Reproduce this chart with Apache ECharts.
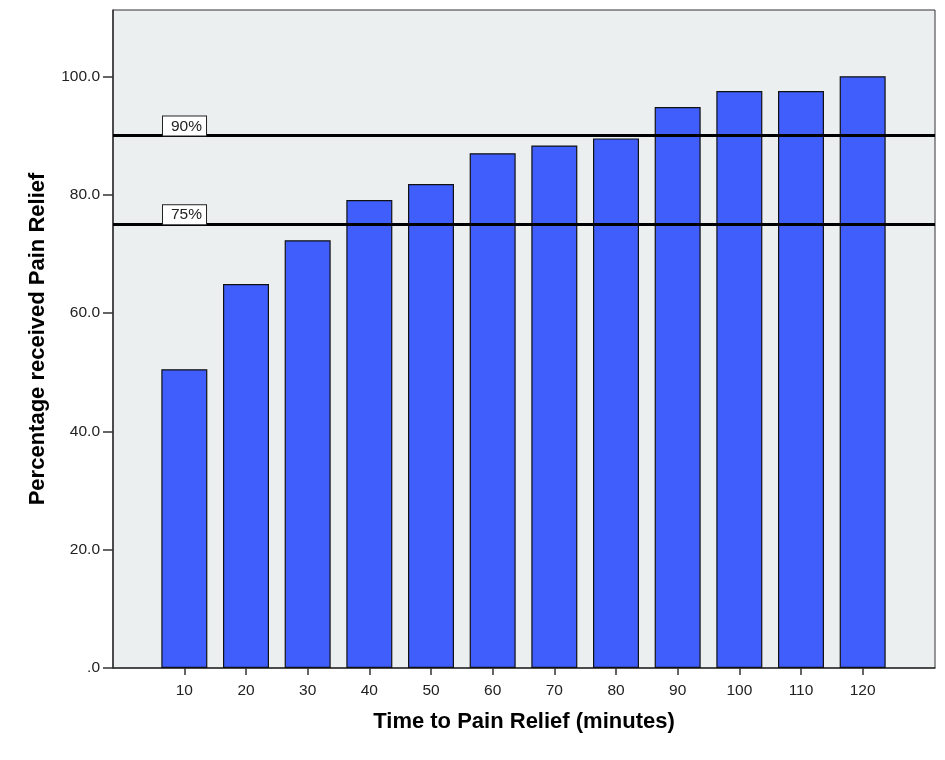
<!DOCTYPE html>
<html>
<head>
<meta charset="utf-8">
<script src="https://cdn.jsdelivr.net/npm/echarts@6/dist/echarts.min.js"></script>
<style>
  html, body { margin: 0; padding: 0; background: #fff; }
  #chart { width: 945px; height: 760px; }
</style>
</head>
<body>
<div id="chart"></div>
<script>
// minutes after dosing
const minutes = ['10', '20', '30', '40', '50', '60', '70', '80', '90', '100', '110', '120'];
// cumulative percentage of patients who got pain relief
const relief = [50.5, 64.9, 72.3, 79.1, 81.8, 87.0, 88.3, 89.5, 94.8, 97.5, 97.5, 100.0];
// reference lines
const refValues = [90, 75];
const refLabels = ['90%', '75%'];
const yTicks = [0, 20, 40, 60, 80, 100];

const yMax = 111.2;
const font = '"Liberation Sans", Arial, sans-serif';

const chart = echarts.init(document.getElementById('chart'), null, {renderer: 'canvas'});

const option = {
  backgroundColor: '#fff',
  animation: false,
  textStyle: {fontFamily: font},
  grid: [
    // frame with background, spans whole plot
    {left: 113, right: 10, top: 10, bottom: 92, show: true, backgroundColor: '#ECEFF0', borderColor: '#333', borderWidth: 1},
    // bars area, narrower so the categories sit inside with padding
    {left: 153.5, right: 51.5, top: 10, bottom: 92}
  ],
  xAxis: [
    {
      gridIndex: 0, type: 'value', min: 0, max: 1,
      axisLine: {show: true, lineStyle: {color: '#333', width: 1.5}},
      axisTick: {show: false}, axisLabel: {show: false}, splitLine: {show: false},
      name: 'Time to Pain Relief (minutes)', nameLocation: 'middle', nameGap: 43,
      nameTextStyle: {fontFamily: font, fontSize: 22, fontWeight: 'bold', color: '#000'}
    },
    {
      gridIndex: 1, type: 'category', data: minutes,
      axisLine: {show: false},
      axisTick: {show: true, alignWithLabel: true, length: 7, lineStyle: {color: '#333', width: 1.5}},
      axisLabel: {margin: 15, fontSize: 15.5, color: '#222', fontFamily: font}
    }
  ],
  yAxis: [
    {
      gridIndex: 0, type: 'value', min: 0, max: yMax,
      axisLine: {show: true, lineStyle: {color: '#333', width: 1.5}},
      axisTick: {show: true, length: 10, customValues: yTicks, lineStyle: {color: '#333', width: 1.5}},
      axisLabel: {
        customValues: yTicks, margin: 13, fontSize: 15.5, color: '#222', fontFamily: font,
        formatter: v => v === 0 ? '.0' : v.toFixed(1)
      },
      splitLine: {show: false},
      name: 'Percentage received Pain Relief', nameLocation: 'middle', nameGap: 64,
      nameTextStyle: {fontFamily: font, fontSize: 22, fontWeight: 'bold', color: '#000'}
    },
    {
      gridIndex: 1, type: 'value', min: 0, max: yMax, show: false
    }
  ],
  series: [
    {
      type: 'bar', xAxisIndex: 1, yAxisIndex: 1,
      data: relief, barWidth: 46,
      itemStyle: {color: '#3F5EFC', borderColor: '#111', borderWidth: 1.2}
    },
    {
      type: 'line', xAxisIndex: 0, yAxisIndex: 0, data: [], z: 5,
      markLine: {
        silent: true, symbol: 'none', animation: false,
        lineStyle: {color: '#000', width: 3, type: 'solid'},
        label: {
          position: 'insideStartTop', distance: [50, 0],
          fontFamily: font, fontSize: 15.5, color: '#222',
          backgroundColor: '#fff', borderColor: '#222', borderWidth: 1,
          padding: [2, 4, 1, 8]
        },
        data: refValues.map((v, i) => ({yAxis: v, label: {formatter: refLabels[i]}}))
      }
    }
  ]
};

chart.setOption(option);
</script>
</body>
</html>
